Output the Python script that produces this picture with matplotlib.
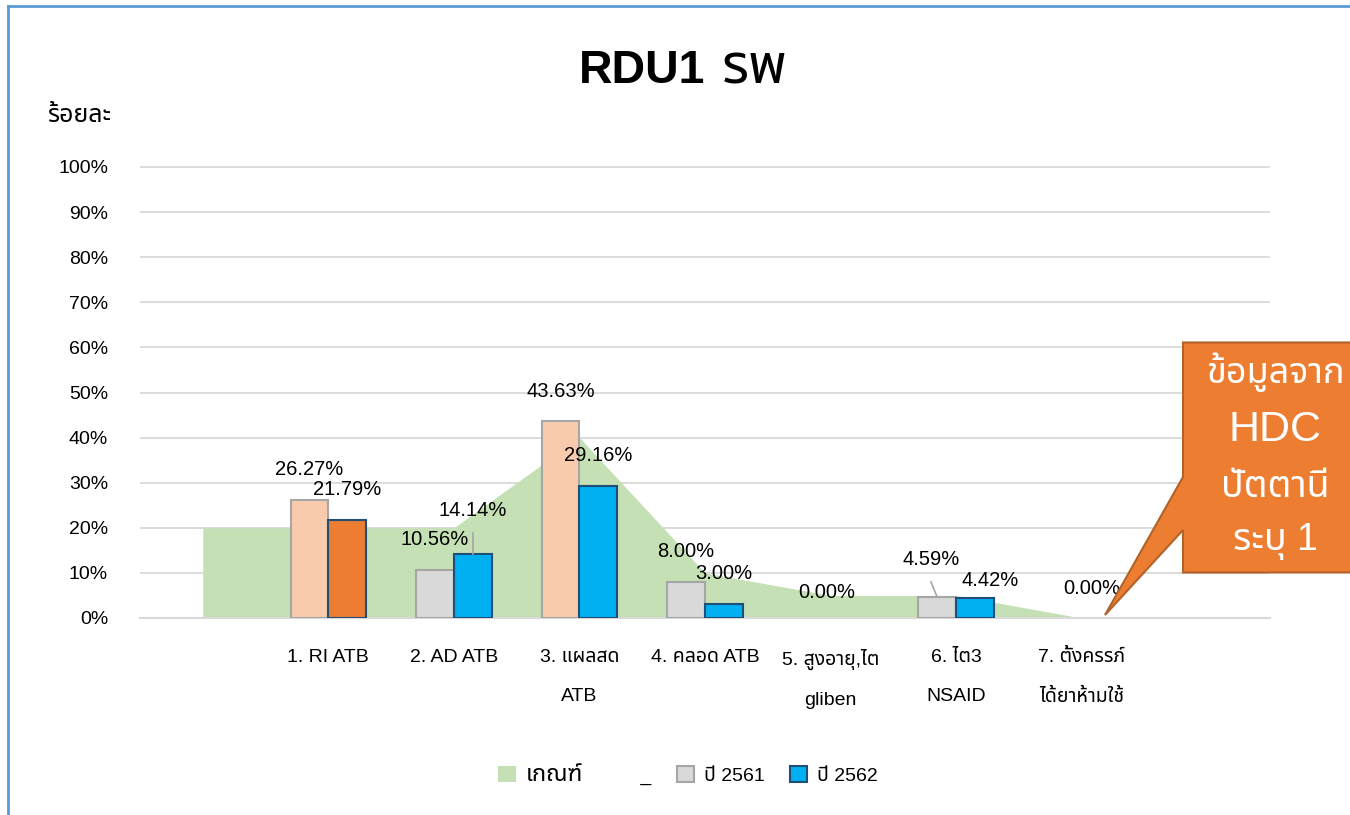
import matplotlib
matplotlib.use('Agg')
import matplotlib.pyplot as plt
from matplotlib import font_manager
from matplotlib.ft2font import FT2Font
from matplotlib.patches import Patch, Polygon
from matplotlib.lines import Line2D

# ---- data ----
categories = ['', '1. RI ATB', '2. AD ATB', '3. แผลสด\nATB', '4. คลอด ATB',
              '5. สูงอายุ,ไต\ngliben', '6. ไต3\nNSAID', '7. ตั้งครรภ์\nได้ยาห้ามใช้', '']
criteria = [20, 20, 20, 40, 10, 5, 5, 0]   # เกณฑ์, from the blank first slot to item 7
y2561 = [26.27, 10.56, 43.63, 8.00, 0.00, 4.59, 0.00]
y2562 = [21.79, 14.14, 29.16, 3.00, 0.00, 4.42, 0.00]
yticks = list(range(0, 101, 10))
legend_labels = ['เกณฑ์', ' _', 'ปี 2561', 'ปี 2562']
callout_lines = ['ข้อมูลจาก', 'HDC', 'ปัตตานี', 'ระบุ 1']

# ---- styles ----
face61 = ['#F8CBAD', '#D9D9D9', '#F8CBAD', '#D9D9D9', '#D9D9D9', '#D9D9D9', '#D9D9D9']
face62 = ['#ED7D31', '#00B0F0', '#00B0F0', '#00B0F0', '#00B0F0', '#00B0F0', '#00B0F0']
# label offsets (dx in category units, dy in percent above bar top), None = hidden
dx61 = [0, 0, 0, 0, 0.12, -0.05, None]
dy61 = [6.7, 6.9, 6.7, 6.7, 5.6, 8.4, None]
dx62 = [0, 0, 0, 0, None, 0.12, -0.07]
dy62 = [6.8, 9.7, 6.8, 6.8, None, 3.8, 6.6]
lead61 = [5]
lead62 = [1]
callout_sizes = [26, 31, 27, 27]


def find_thai_font():
    found = []
    for f in font_manager.fontManager.ttflist:
        try:
            cmap = FT2Font(f.fname).get_charmap()
        except Exception:
            continue
        if 0x0E01 in cmap and f.name not in found:
            found.append(f.name)
    for pref in ['Noto Sans Thai', 'Noto Sans Thai UI', 'Loma', 'Garuda',
                 'Sarabun', 'Umpush', 'Tlwg Typo', 'Norasi']:
        if pref in found:
            return pref
    return found[0] if found else 'DejaVu Sans'


thai = find_thai_font()
plt.rcParams['font.family'] = ['Liberation Sans', thai, 'DejaVu Sans']

W, H = 1350, 815
fig = plt.figure(figsize=(W / 100, H / 100), dpi=100)
ax = fig.add_axes([140 / W, 1 - 618 / H, 1130 / W, (618 - 167) / H * 1.01])
ax.set_xlim(-0.5, len(categories) - 0.5)
ax.set_ylim(0, 101)

x_area = list(range(len(criteria)))
ax.fill_between(x_area, criteria, color='#C5E0B4', lw=0, zorder=1)

bw = 0.3
x_items = [i + 1 for i in range(len(y2561))]
ax.bar([x - bw / 2 for x in x_items], y2561, width=bw, color=face61,
       edgecolor='#A6A6A6', lw=[1.5 if v > 0 else 0 for v in y2561], zorder=2)
ax.bar([x + bw / 2 for x in x_items], y2562, width=bw, color=face62,
       edgecolor='#1F4E79', lw=[1.5 if v > 0 else 0 for v in y2562], zorder=2)


def put_labels(vals, shift, dxs, dys, leads):
    for i, v in enumerate(vals):
        if dxs[i] is None:
            continue
        bx = x_items[i] + shift
        lx, ly = bx + dxs[i], v + dys[i]
        ax.text(lx, ly, f'{v:.2f}%', ha='center', va='center',
                fontsize=14.5, color='black', zorder=4)
        if i in leads:
            ax.plot([bx, lx], [v, ly - 5.0], color='#A6A6A6', lw=1.2, zorder=3)


put_labels(y2561, -bw / 2, dx61, dy61, lead61)
put_labels(y2562, bw / 2, dx62, dy62, lead62)

ax.set_yticks(yticks)
ax.set_yticklabels([f'{t}%' for t in yticks], fontsize=14)
ax.set_xticks(range(len(categories)))
ax.set_xticklabels(categories, fontsize=14, linespacing=2.75)
ax.tick_params(axis='y', length=0, pad=23)
ax.tick_params(axis='x', length=0, pad=22)
ax.yaxis.grid(True, color='#D9D9D9', lw=1.3, zorder=0)
ax.set_axisbelow(True)
for s in ['top', 'right', 'left']:
    ax.spines[s].set_visible(False)
ax.spines['bottom'].set_color('#D9D9D9')
ax.spines['bottom'].set_linewidth(1.5)
ax.spines['bottom'].set_zorder(1.5)

# title: latin and thai parts sized separately so the thai glyphs match the caps
fig.text(705 / W, 1 - 83 / H, 'RDU1', ha='right', va='baseline',
         fontsize=33.5, fontweight='bold')
fig.text(722 / W, 1 - 83 / H, 'รพ', ha='left', va='baseline',
         fontsize=40, fontweight='bold')
fig.text(47 / W, 1 - 115 / H, 'ร้อยละ', ha='left', va='center', fontsize=18)

handles = [Patch(facecolor='#C5E0B4', edgecolor='none'),
           Patch(facecolor='none', edgecolor='none'),
           Patch(facecolor='#D9D9D9', edgecolor='#A6A6A6', lw=1.5),
           Patch(facecolor='#00B0F0', edgecolor='#1F4E79', lw=1.5)]
leg = fig.legend(handles, legend_labels, loc='center',
                 bbox_to_anchor=(688 / W, 1 - 775 / H),
                 ncol=4, frameon=False, fontsize=14, handlelength=0.9,
                 handleheight=0.9, handletextpad=0.5, columnspacing=1.3)
leg.get_texts()[0].set_fontsize(17)

# callout box with pointer
pts = [(1183, 342.5), (1360, 342.5), (1360, 572.5), (1183, 572.5),
       (1183, 530), (1105, 615), (1183, 477)]
poly = Polygon([(px / W, 1 - py / H) for px, py in pts], closed=True,
               transform=fig.transFigure, facecolor='#ED7D31', edgecolor='#B0632A',
               lw=1.5, zorder=10, clip_on=False)
fig.add_artist(poly)
for txt, py, fs in zip(callout_lines, [372, 430, 487, 542], callout_sizes):
    fig.text(1275 / W, 1 - py / H, txt, ha='center', va='center', fontsize=fs,
             color='white', zorder=11)

# frame lines
fig.add_artist(Line2D([7.5 / W, 7.5 / W], [0, 1 - 6 / H], color='#5B9BD5', lw=2,
                      transform=fig.transFigure))
fig.add_artist(Line2D([7.5 / W, 1], [1 - 6 / H, 1 - 6 / H], color='#5B9BD5', lw=2,
                      transform=fig.transFigure))

fig.savefig('out.png', dpi=100, facecolor='white')
